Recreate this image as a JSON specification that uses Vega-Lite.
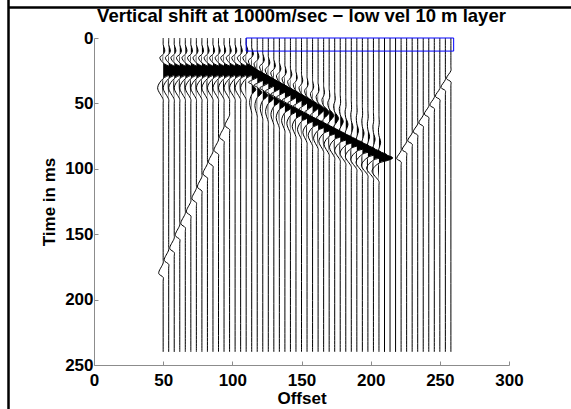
{
"$schema": "https://vega.github.io/schema/vega-lite/v6.json",
"width": 415, "height": 327,
"autosize": "none",
"padding": {"left": 94, "top": 38, "right": 62, "bottom": 44},
"background": "white",
"config": {"view": {"stroke": null}, "font": "Liberation Sans"},
"title": {"text": "Vertical shift at 1000m/sec − low vel 10 m layer", "fontSize": 18.5, "fontWeight": "bold", "font": "Liberation Sans", "color": "black", "frame": "group", "offset": -27, "anchor": "middle"},
"datasets": {
"traces": [
{"o":50,"t":[0,3,5,10,12.5,15,19,22,25,28,31,38,47,50,169,172,180,183,186,240],"x":[50,50,50,51.2,50,47.6,50,54.8,58,54.8,50,46,50,50,50,50,46.8,50,50,50]},
{"o":54,"t":[0,3,5,10,12.5,15,19,22,25,28,31,38,47,50,159,162,170,173,176,240],"x":[54,54,54,55.2,54,51.6,54,58.8,62,58.8,54,50,54,54,54,54,50.8,54,54,54]},
{"o":58,"t":[0,3,5,10,12.5,15,19,22,25,28,31,38,47,50,150,153,161,164,167,240],"x":[58,58,58,59.2,58,55.6,58,62.8,66,62.8,58,54,58,58,58,58,54.8,58,58,58]},
{"o":62,"t":[0,3,5,10,12.5,15,19,22,25,28,31,38,47,50,140,143,151,154,157,240],"x":[62,62,62,63.2,62,59.6,62,66.8,70,66.8,62,58,62,62,62,62,58.8,62,62,62]},
{"o":66,"t":[0,3,5,10,12.5,15,19,22,25,28,31,38,47,50,131,134,142,145,148,240],"x":[66,66,66,67.2,66,63.6,66,70.8,74,70.8,66,62,66,66,66,66,62.8,66,66,66]},
{"o":70,"t":[0,3,5,10,12.5,15,19,22,25,28,31,38,47,50,122,125,133,136,139,240],"x":[70,70,70,71.2,70,67.6,70,74.8,78,74.8,70,66,70,70,70,70,66.8,70,70,70]},
{"o":74,"t":[0,3,5,10,12.5,15,19,22,25,28,31,38,47,50,112,115,123,126,129,240],"x":[74,74,74,75.2,74,71.6,74,78.8,82,78.8,74,70,74,74,74,74,70.8,74,74,74]},
{"o":78,"t":[0,3,5,10,12.5,15,19,22,25,28,31,38,47,50,103,106,114,117,120,240],"x":[78,78,78,79.2,78,75.6,78,82.8,86,82.8,78,74,78,78,78,78,74.8,78,78,78]},
{"o":82,"t":[0,3,5,10,12.5,15,19,22,25,28,31,38,47,50,93,96,104,107,110,240],"x":[82,82,82,83.2,82,79.6,82,86.8,90,86.8,82,78,82,82,82,82,78.8,82,82,82]},
{"o":86,"t":[0,3,5,10,12.5,15,19,22,25,28,31,38,47,50,84,87,95,98,101,240],"x":[86,86,86,87.2,86,83.6,86,90.8,94,90.8,86,82,86,86,86,86,82.8,86,86,86]},
{"o":90,"t":[0,3,5,10,12.5,15,19,22,25,28,31,38,47,50,75,78,86,89,92,240],"x":[90,90,90,91.2,90,87.6,90,94.8,98,94.8,90,86,90,90,90,90,86.8,90,90,90]},
{"o":94,"t":[0,3,5,10,12.5,15,19,22,25,28,31,38,47,50,65,68,76,79,82,240],"x":[94,94,94,95.2,94,91.6,94,98.8,102,98.8,94,90,94,94,94,94,90.8,94,94,94]},
{"o":98,"t":[0,3,5,10,12.5,15,19,22,25,28,31,38,47,50,56,59,67,70,73,240],"x":[98,98,98,99.2,98,95.6,98,102.8,106,102.8,98,94,98,98,98,98,94.8,98,98,98]},
{"o":102,"t":[0,3,5,10,12.5,15,19,22,25,28,31,38,47,50,240],"x":[102,102,102,103.2,102,99.6,102,106.8,110,106.8,102,98,102,102,102]},
{"o":106,"t":[0,3,5,10,12.5,15,19,22,25,28,31,38,47,50,240],"x":[106,106,106,107.2,106,103.6,106,110.8,114,110.8,106,102,106,106,106]},
{"o":110,"t":[0,3,5,10,12.5,15,19,22,25,28,31,38,47,50,240],"x":[110,110,110,111.2,110,107.6,110,114.8,118,114.8,110,106,110,110,110]},
{"o":114,"t":[0,5.3,7.3,12.3,14.8,17.3,22.3,24.8,27.3,29.8,32.3,33.8,35.3,37.3,39.3,41.3,43.3,49.3,57.3,60.3,240],"x":[114,114,114,115.2,114,111.6,114,118.8,122,118.8,114,111.6,114,115.8,117,115.8,114,112.5,114,114,114]},
{"o":118,"t":[0,7.6,9.6,14.6,17.1,19.6,24.6,27.1,29.6,32.1,34.6,36.1,37.6,39.6,41.6,43.6,45.6,51.6,59.6,62.6,240],"x":[118,118,118,119.2,118,115.7,118,122.7,125.8,122.7,118,115.7,118,120,121.3,120,118,116.3,118,118,118]},
{"o":122,"t":[0,9.8,11.8,16.8,19.3,21.8,26.8,29.3,31.8,34.3,36.8,38.3,39.8,41.8,43.8,45.8,47.8,53.8,61.8,64.8,240],"x":[122,122,122,123.1,122,119.7,122,126.6,129.6,126.6,122,119.7,122,124.2,125.6,124.2,122,120.2,122,122,122]},
{"o":126,"t":[0,12.1,14.1,19.1,21.6,24.1,29.1,31.6,34.1,36.6,39.1,40.6,42.1,44.1,46.1,48.1,50.1,56.1,64.1,67.1,240],"x":[126,126,126,127.1,126,123.8,126,130.4,133.4,130.4,126,123.8,126,128.3,129.9,128.3,126,124,126,126,126]},
{"o":130,"t":[0,14.4,16.4,21.4,23.9,26.4,31.4,33.9,36.4,38.9,41.4,42.9,44.4,46.4,48.4,50.4,52.4,58.4,66.4,69.4,240],"x":[130,130,130,131.1,130,127.8,130,134.3,137.2,134.3,130,127.8,130,132.5,134.2,132.5,130,127.9,130,130,130]},
{"o":134,"t":[0,16.7,18.7,23.7,26.2,28.7,33.7,36.2,38.7,41.2,43.7,45.2,46.7,48.7,50.7,52.7,54.7,60.7,68.7,71.7,240],"x":[134,134,134,135.1,134,131.9,134,138.2,141,138.2,134,131.9,134,136.7,138.5,136.7,134,131.7,134,134,134]},
{"o":138,"t":[0,19,21,26,28.5,31,36,38.5,41,43.5,46,47.5,49,51,53,55,57,63,71,74,240],"x":[138,138,138,139,138,136,138,142.1,144.8,142.1,138,136,138,140.9,142.8,140.9,138,135.6,138,138,138]},
{"o":142,"t":[0,21.2,23.2,28.2,30.7,33.2,38.2,40.7,43.2,45.7,48.2,49.7,51.2,53.2,55.2,57.2,59.2,65.2,73.2,76.2,240],"x":[142,142,142,143,142,140,142,145.9,148.5,145.9,142,140,142,145.1,147.1,145.1,142,139.4,142,142,142]},
{"o":146,"t":[0,23.5,25.5,30.5,33,35.5,40.5,43,45.5,48,50.5,52,53.5,55.5,57.5,59.5,61.5,67.5,75.5,78.5,240],"x":[146,146,146,146.9,146,144.1,146,149.7,152.2,149.7,146,144.1,146,149.2,151.4,149.2,146,143.3,146,146,146]},
{"o":150,"t":[0,25.8,27.8,32.8,35.3,37.8,42.8,45.3,47.8,50.3,52.8,54.3,55.8,57.8,59.8,61.8,63.8,69.8,77.8,80.8,240],"x":[150,150,150,150.9,150,148.2,150,153.5,155.9,153.5,150,148.2,150,153.4,155.7,153.4,150,147.1,150,150,150]},
{"o":154,"t":[0,28.1,30.1,35.1,37.6,40.1,45.1,47.6,50.1,52.6,55.1,56.6,58.1,60.1,62.1,64.1,66.1,72.1,80.1,83.1,240],"x":[154,154,154,154.8,154,152.3,154,157.3,159.5,157.3,154,152.3,154,157.6,160,157.6,154,151,154,154,154]},
{"o":158,"t":[0,30.4,32.4,37.4,39.9,42.4,47.4,49.9,52.4,54.9,57.4,58.9,60.4,62.4,64.4,66.4,68.4,74.4,82.4,85.4,240],"x":[158,158,158,158.8,158,156.5,158,161,163,161,158,156.5,158,161.8,164.3,161.8,158,154.8,158,158,158]},
{"o":162,"t":[0,32.6,34.6,39.6,42.1,44.6,49.6,52.1,54.6,57.1,59.6,61.1,62.6,64.6,66.6,68.6,70.6,76.6,84.6,87.6,240],"x":[162,162,162,162.7,162,160.6,162,164.7,166.5,164.7,162,160.6,162,166,168.6,166,162,158.7,162,162,162]},
{"o":166,"t":[0,34.9,36.9,41.9,44.4,46.9,51.9,54.4,56.9,59.4,61.9,63.4,64.9,66.9,68.9,70.9,72.9,78.9,86.9,89.9,240],"x":[166,166,166,166.6,166,164.8,166,168.4,170,168.4,166,164.8,166,170.2,173,170.2,166,162.5,166,166,166]},
{"o":170,"t":[0,37.2,39.2,44.2,46.7,49.2,54.2,56.7,59.2,61.7,64.2,65.7,67.2,69.2,71.2,73.2,75.2,81.2,89.2,92.2,240],"x":[170,170,170,170.5,170,169,170,172,173.4,172,170,169,170,174.4,177.3,174.4,170,166.3,170,170,170]},
{"o":174,"t":[0,39.5,41.5,46.5,49,51.5,56.5,59,61.5,64,66.5,68,69.5,71.5,73.5,75.5,77.5,83.5,91.5,94.5,240],"x":[174,174,174,174.4,174,173.2,174,175.7,176.8,175.7,174,173.2,174,178.6,181.6,178.6,174,170.2,174,174,174]},
{"o":178,"t":[0,41.8,43.8,48.8,51.3,53.8,58.8,61.3,63.8,66.3,68.8,70.3,71.8,73.8,75.8,77.8,79.8,85.8,93.8,96.8,240],"x":[178,178,178,178.3,178,177.3,178,179.3,180.2,179.3,178,177.3,178,182.7,185.9,182.7,178,174,178,178,178]},
{"o":182,"t":[0,44,46,51,53.5,56,61,63.5,66,68.5,71,72.5,74,76,78,80,82,88,96,99,240],"x":[182,182,182,182.2,182,181.5,182,183,183.6,183,182,181.5,182,186.9,190.2,186.9,182,177.9,182,182,182]},
{"o":186,"t":[0,46.3,48.3,53.3,55.8,58.3,63.3,65.8,68.3,70.8,73.3,74.8,76.3,78.3,80.3,82.3,84.3,90.3,98.3,101.3,240],"x":[186,186,186,186.2,186,185.6,186,186.7,187.2,186.7,186,185.6,186,191.1,194.5,191.1,186,181.7,186,186,186]},
{"o":190,"t":[0,48.6,50.6,55.6,58.1,60.6,65.6,68.1,70.6,73.1,75.6,77.1,78.6,80.6,82.6,84.6,86.6,92.6,100.6,103.6,240],"x":[190,190,190,190.2,190,189.6,190,190.7,191.2,190.7,190,189.6,190,195.3,198.8,195.3,190,185.6,190,190,190]},
{"o":194,"t":[0,50.9,52.9,57.9,60.4,62.9,67.9,70.4,72.9,75.4,77.9,79.4,80.9,82.9,84.9,86.9,88.9,94.9,102.9,105.9,240],"x":[194,194,194,194.2,194,193.6,194,194.7,195.2,194.7,194,193.6,194,199.5,203.1,199.5,194,189.4,194,194,194]},
{"o":198,"t":[0,53.2,55.2,60.2,62.7,65.2,70.2,72.7,75.2,77.7,80.2,81.7,83.2,85.2,87.2,89.2,91.2,97.2,105.2,108.2,240],"x":[198,198,198,198.2,198,197.6,198,198.7,199.2,198.7,198,197.6,198,203.6,207.4,203.6,198,193.3,198,198,198]},
{"o":202,"t":[0,55.4,57.4,62.4,64.9,67.4,72.4,74.9,77.4,79.9,82.4,83.9,85.4,87.4,89.4,91.4,93.4,99.4,107.4,110.4,240],"x":[202,202,202,202.2,202,201.6,202,202.7,203.2,202.7,202,201.6,202,207.8,211.7,207.8,202,197.1,202,202,202]},
{"o":206,"t":[0,57.7,59.7,64.7,67.2,69.7,74.7,77.2,79.7,82.2,84.7,86.2,87.7,89.7,91.7,93.7,95.7,101.7,109.7,112.7,240],"x":[206,206,206,206.2,206,205.6,206,206.7,207.2,206.7,206,205.6,206,212,216,212,206,201,206,206,206]},
{"o":210,"t":[0,240],"x":[210,210]},
{"o":214,"t":[0,240],"x":[214,214]},
{"o":218,"t":[0,240],"x":[218,218]},
{"o":222,"t":[0,83.2,86.2,92.2,94.7,97.7,240],"x":[222,222,222,218.8,222,222,222]},
{"o":226,"t":[0,76.4,79.4,85.4,87.9,90.9,240],"x":[226,226,226,222.8,226,226,226]},
{"o":230,"t":[0,69.6,72.6,78.6,81.1,84.1,240],"x":[230,230,230,226.8,230,230,230]},
{"o":234,"t":[0,62.8,65.8,71.8,74.3,77.3,240],"x":[234,234,234,230.8,234,234,234]},
{"o":238,"t":[0,56,59,65,67.5,70.5,240],"x":[238,238,238,234.8,238,238,238]},
{"o":242,"t":[0,49.2,52.2,58.2,60.7,63.7,240],"x":[242,242,242,238.8,242,242,242]},
{"o":246,"t":[0,42.4,45.4,51.4,53.9,56.9,240],"x":[246,246,246,242.8,246,246,246]},
{"o":250,"t":[0,35.6,38.6,44.6,47.1,50.1,240],"x":[250,250,250,246.8,250,250,250]},
{"o":254,"t":[0,28.8,31.8,37.8,40.3,43.3,240],"x":[254,254,254,250.8,254,254,254]},
{"o":258,"t":[0,22,25,31,33.5,36.5,240],"x":[258,258,258,254.8,258,258,258]}
],
"box": [{"a":110,"b":260,"t1":0,"t2":10}],
"vframe": [{"fx":-61.8,"f1":-29,"f2":300}],
"hframe": [{"g1":-62,"g2":400,"gt":-23.3}]
},
"layer": [
{"data": {"name": "traces"},
 "transform": [{"flatten": ["t", "x"]}, {"filter": "datum.x >= datum.o"}],
 "mark": {"type": "area", "orient": "horizontal", "color": "black", "interpolate": "catmull-rom"},
 "encoding": {
  "y": {"field": "t", "type": "quantitative",
        "scale": {"domain": [0, 250], "reverse": true, "nice": false, "zero": false},
        "axis": {"title": "Time in ms", "values": [0,50,100,150,200,250], "grid": false,
                 "labelFontSize": 17, "labelFontWeight": "bold", "labelColor": "black", "labelFont": "Liberation Sans",
                 "titleFontSize": 17, "titleFontWeight": "bold", "titleColor": "black", "titleFont": "Liberation Sans",
                 "domainColor": "#8c8c8c", "tickColor": "#8c8c8c", "tickSize": -4, "labelPadding": 5, "titlePadding": 6,
                 "labelFlush": false, "labelOverlap": false}},
  "x": {"field": "x", "type": "quantitative", "stack": null,
        "scale": {"domain": [0, 300], "nice": false, "zero": false},
        "axis": {"title": "Offset", "values": [0,50,100,150,200,250,300], "grid": false,
                 "labelFontSize": 17, "labelFontWeight": "bold", "labelColor": "black", "labelFont": "Liberation Sans",
                 "titleFontSize": 17, "titleFontWeight": "bold", "titleColor": "black", "titleFont": "Liberation Sans",
                 "domainColor": "#8c8c8c", "tickColor": "#8c8c8c", "tickSize": -4, "labelPadding": 11, "titlePadding": 2,
                 "labelFlush": false, "labelOverlap": false}},
  "x2": {"field": "o"},
  "detail": {"field": "o", "type": "quantitative"}
 }},
{"data": {"name": "traces"},
 "transform": [{"flatten": ["t", "x"]}],
 "mark": {"type": "line", "color": "black", "strokeWidth": 1, "interpolate": "catmull-rom"},
 "encoding": {
  "y": {"field": "t", "type": "quantitative"},
  "x": {"field": "x", "type": "quantitative"},
  "detail": {"field": "o", "type": "quantitative"},
  "order": {"field": "t", "type": "quantitative"}
 }},
{"data": {"name": "box"},
 "mark": {"type": "rect", "fillOpacity": 0, "stroke": "#0000ff", "strokeWidth": 1},
 "encoding": {
  "x": {"field": "a", "type": "quantitative"},
  "x2": {"field": "b"},
  "y": {"field": "t1", "type": "quantitative"},
  "y2": {"field": "t2"}
 }},
{"data": {"name": "vframe"},
 "mark": {"type": "rule", "color": "black", "strokeWidth": 2.5, "clip": false},
 "encoding": {
  "x": {"field": "fx", "type": "quantitative"},
  "y": {"field": "f1", "type": "quantitative"},
  "y2": {"field": "f2"}
 }},
{"data": {"name": "hframe"},
 "mark": {"type": "rule", "color": "black", "strokeWidth": 2.5, "clip": false},
 "encoding": {
  "x": {"field": "g1", "type": "quantitative"},
  "x2": {"field": "g2"},
  "y": {"field": "gt", "type": "quantitative"}
 }}
]
}
